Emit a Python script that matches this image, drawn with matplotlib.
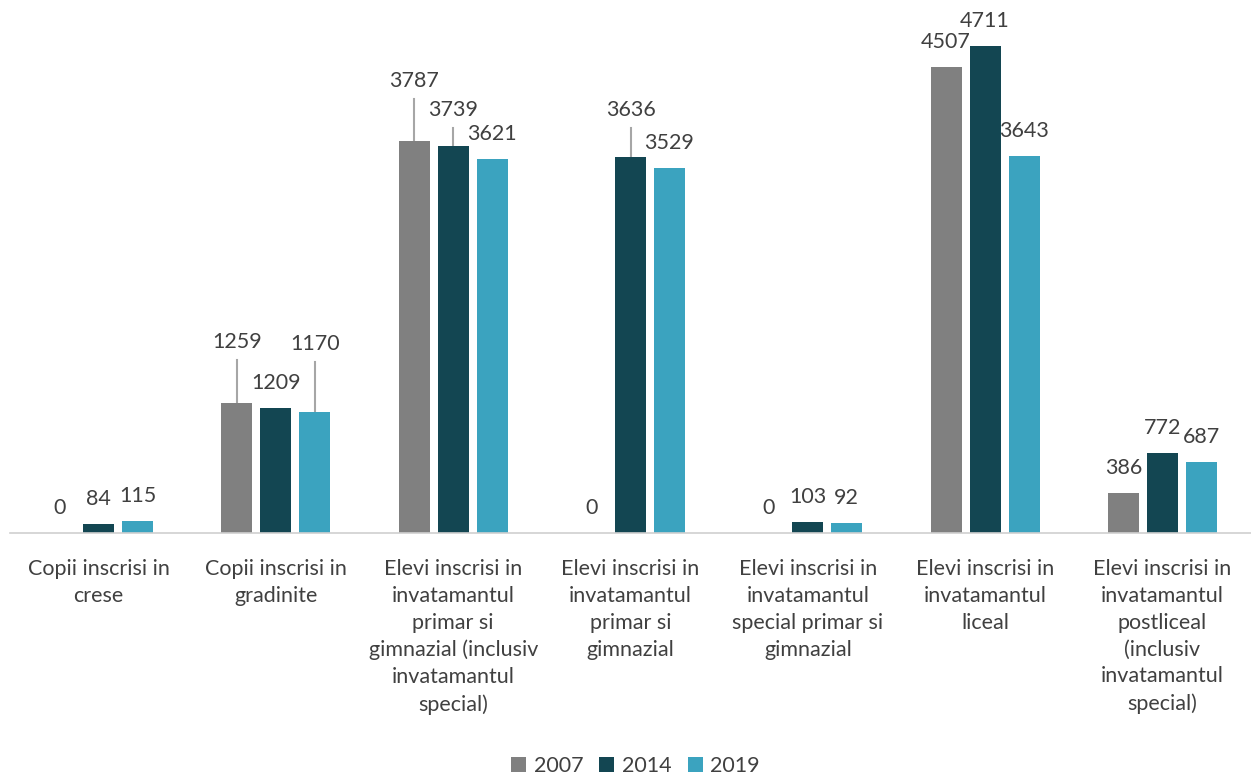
import matplotlib.pyplot as plt
import numpy as np

plt.rcParams['font.family'] = ['Lato', 'DejaVu Sans']

categories = [
    "Copii inscrisi in\ncrese",
    "Copii inscrisi in\ngradinite",
    "Elevi inscrisi in\ninvatamantul\nprimar si\ngimnazial (inclusiv\ninvatamantul\nspecial)",
    "Elevi inscrisi in\ninvatamantul\nprimar si\ngimnazial",
    "Elevi inscrisi in\ninvatamantul\nspecial primar si\ngimnazial",
    "Elevi inscrisi in\ninvatamantul\nliceal",
    "Elevi inscrisi in\ninvatamantul\npostliceal\n(inclusiv\ninvatamantul\nspecial)",
]
years = ["2007", "2014", "2019"]
v2007 = [0, 1259, 3787, 0, 0, 4507, 386]
v2014 = [84, 1209, 3739, 3636, 103, 4711, 772]
v2019 = [115, 1170, 3621, 3529, 92, 3643, 687]

colors = ["#808080", "#134652", "#3ba3bf"]
text_col = "#404040"
fs = 15.5

# label offsets in pixels above bar top (only the ones that differ from default)
label_off = {(1, 0): 61, (1, 2): 68, (2, 0): 60, (2, 1): 36, (3, 1): 47}

fig = plt.figure(figsize=(12.51, 7.74), dpi=100)
ax = fig.add_axes([10 / 1251, 1 - 533 / 774, 1241 / 1251, (533 - 16) / 774])
ax.set_xlim(-0.5, len(categories) - 0.5)
ax.set_ylim(0, 5000)

x = np.arange(len(categories))
step = 0.22
width = 0.175
series = [v2007, v2014, v2019]
px_per_unit = (533 - 16) / 5000
for i, vals in enumerate(series):
    pos = x + (i - 1) * step
    ax.bar(pos, vals, width, color=colors[i], label=years[i], zorder=2)
    for j, v in enumerate(vals):
        off = label_off.get((j, i), 25)
        ax.annotate(str(v), (pos[j], v), xytext=(0, off), textcoords='offset pixels',
                    ha='center', va='center', fontsize=fs, color=text_col,
                    annotation_clip=False)
        if off != 25:
            ytop = v + (off - 18) / px_per_unit
            ax.plot([pos[j], pos[j]], [v, ytop], color="#a6a6a6", lw=1.5,
                    zorder=1, clip_on=False)

ax.set_yticks([])
ax.set_xticks(x)
ax.set_xticklabels(categories, fontsize=fs, color=text_col, linespacing=1.42, va='top')
ax.tick_params(axis='x', length=0, pad=19)
for s in ['top', 'right', 'left']:
    ax.spines[s].set_visible(False)
ax.spines['bottom'].set_color("#d0d0d0")
ax.spines['bottom'].set_linewidth(1.2)

leg = fig.legend(loc='lower center', bbox_to_anchor=(0.508, -0.028), ncol=3, frameon=False,
                 fontsize=fs, handlelength=0.7, handleheight=0.7, handletextpad=0.35,
                 columnspacing=0.75)
for t in leg.get_texts():
    t.set_color(text_col)

fig.savefig("out.png", dpi=100)
